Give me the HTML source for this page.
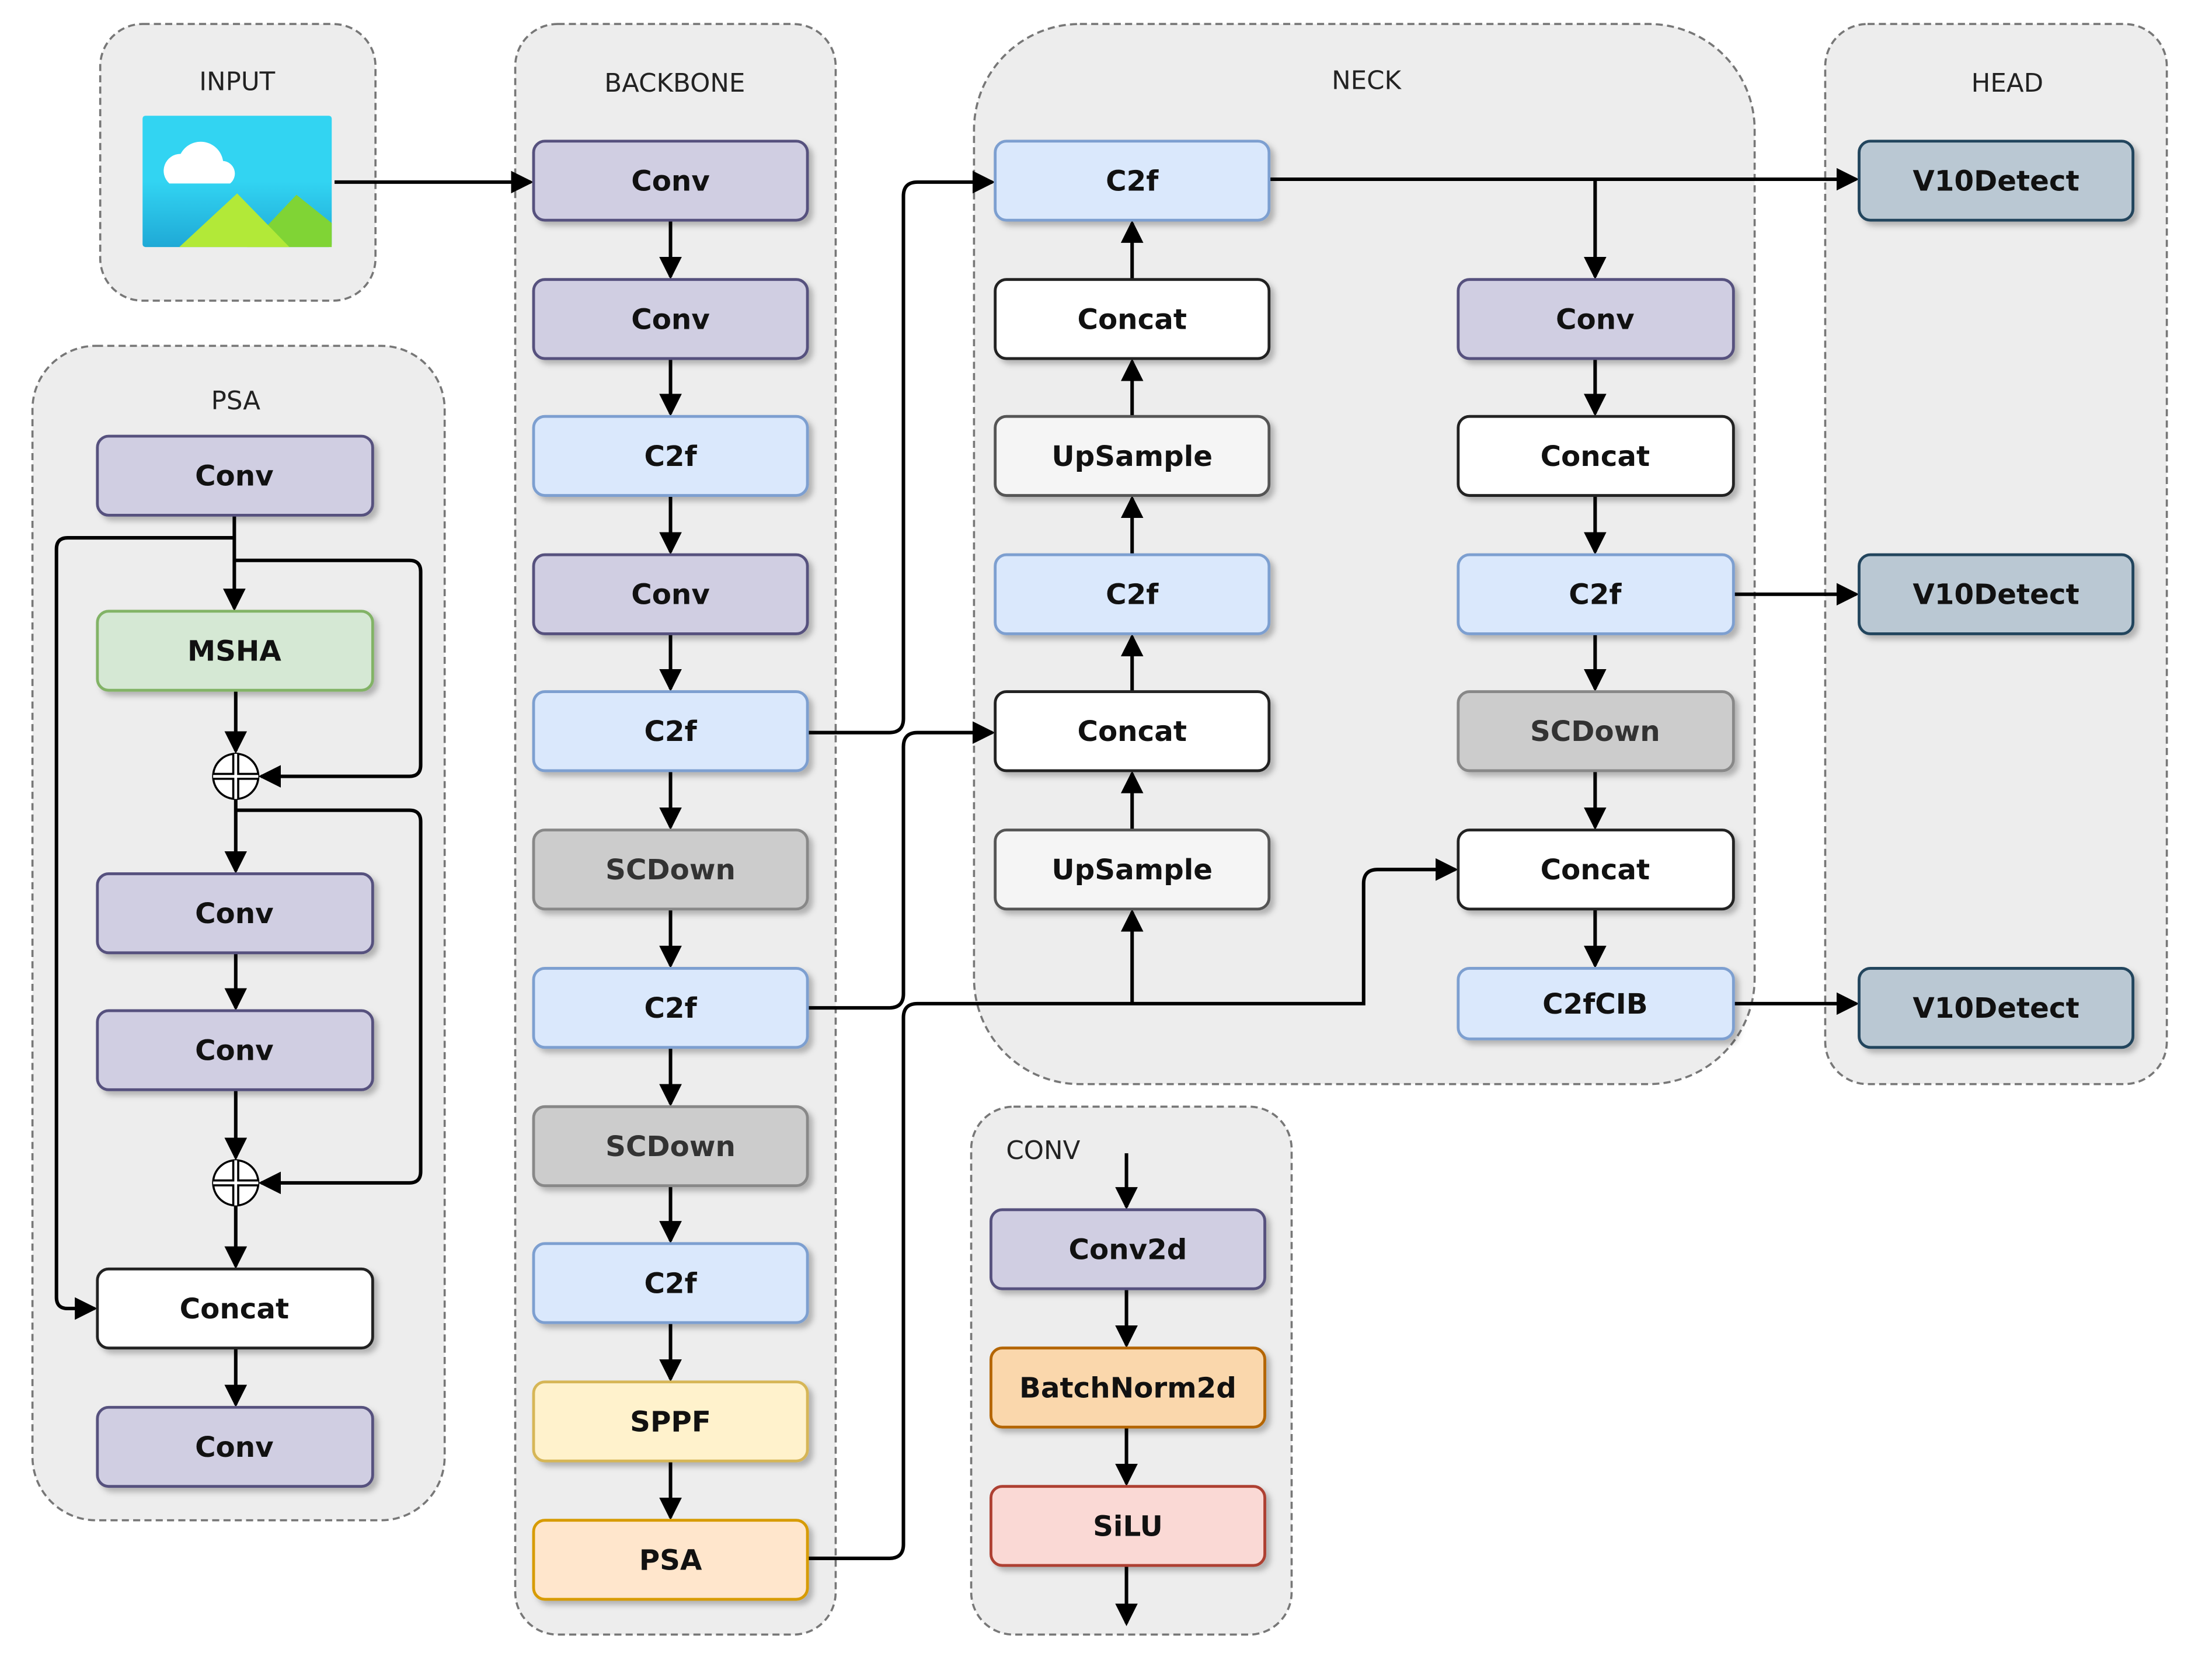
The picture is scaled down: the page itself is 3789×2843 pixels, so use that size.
<!DOCTYPE html>
<html><head><meta charset="utf-8"><style>html,body{margin:0;padding:0;background:#fff;}svg{display:block}</style></head>
<body>
<svg width="3789" height="2843" viewBox="0 0 1567 1176" preserveAspectRatio="none" xmlns="http://www.w3.org/2000/svg" font-family="'DejaVu Sans','Liberation Sans',sans-serif">
<defs>
<marker id="a" markerUnits="userSpaceOnUse" markerWidth="18" markerHeight="18" refX="14" refY="8" orient="auto"><path d="M0,0 L16,8 L0,16 Z" fill="#000"/></marker>
<filter id="sh" x="-10%" y="-20%" width="125%" height="160%"><feDropShadow dx="3" dy="3" stdDeviation="2" flood-color="#000" flood-opacity="0.25"/></filter>
<linearGradient id="sky" x1="0" y1="0" x2="0" y2="1"><stop offset="0.5" stop-color="#32d4f2"/><stop offset="1" stop-color="#1fa9d6"/></linearGradient>
</defs>
<g fill="#ededed" stroke="#777" stroke-width="1.5" stroke-dasharray="5,3">
<rect x="71" y="17" width="195" height="196" rx="30"/>
<rect x="365" y="17" width="227" height="1141" rx="30"/>
<rect x="690" y="17" width="553" height="751" rx="75"/>
<rect x="1293" y="17" width="242" height="751" rx="30"/>
<rect x="23" y="245" width="292" height="832" rx="45"/>
<rect x="688" y="784" width="227" height="374" rx="30"/>
</g>
<g font-size="18" fill="#222" text-anchor="middle">
<text x="168" y="64">INPUT</text><text x="478" y="65">BACKBONE</text><text x="968" y="63">NECK</text><text x="1422" y="65">HEAD</text><text x="167" y="290">PSA</text><text x="739" y="821">CONV</text>
</g>
<rect x="101" y="82" width="134" height="93" fill="url(#sky)" rx="2"/>
<path d="M175,175 L210,138 L235,158 L235,175 Z" fill="#80d435"/>
<path d="M127,175 L168,137 L205,175 Z" fill="#b2e938"/>
<path d="M120,130 a12,12 0 0 1 8,-21 a16,16 0 0 1 30,5 a9,9 0 0 1 5,16 Z" fill="#fff"/>
<g fill="none" stroke="#000" stroke-width="2.5" marker-end="url(#a)">
<path d="M237,129 H376"/>
<path d="M475,156 V196"/><path d="M475,254 V293"/><path d="M475,351 V391"/><path d="M475,449 V488"/><path d="M475,546 V586"/><path d="M475,644 V684"/><path d="M475,742 V782"/><path d="M475,840 V879"/><path d="M475,937 V977"/><path d="M475,1035 V1075"/>
<path d="M572,519 H630 Q640,519 640,509 V139 Q640,129 650,129 H703"/>
<path d="M572,714 H630 Q640,714 640,704 V529 Q640,519 650,519 H703"/>
<path d="M572,1104 H630 Q640,1104 640,1094 V721 Q640,711 650,711 H966 V626 Q966,616 976,616 H1031"/>
<path d="M802,711 V646"/>
<path d="M802,198 V158"/><path d="M802,295 V256"/><path d="M802,393 V353"/><path d="M802,490 V451"/><path d="M802,588 V548"/>
<path d="M899,127 H1315"/><path d="M1130,127 V196"/>
<path d="M1130,254 V293"/><path d="M1130,351 V391"/><path d="M1130,449 V488"/><path d="M1130,546 V586"/><path d="M1130,644 V684"/>
<path d="M1228,421 H1315"/><path d="M1228,711 H1315"/>
<path d="M166,365 V431"/>
<path d="M166,381 H48 Q40,381 40,389 V919 Q40,927 48,927 H67"/>
<path d="M166,397 H290 Q298,397 298,405 V542 Q298,550 290,550 H185"/>
<path d="M167,489 V532"/>
<path d="M167,566 V617"/>
<path d="M167,574 H290 Q298,574 298,582 V830 Q298,838 290,838 H185"/>
<path d="M167,675 V714"/><path d="M167,772 V820"/><path d="M167,854 V897"/><path d="M167,955 V995"/>
<path d="M798,817 V855"/><path d="M798,913 V953"/><path d="M798,1011 V1051"/><path d="M798,1109 V1150"/>
</g>
<g fill="#fff" stroke="#000" stroke-width="1.5">
<circle cx="167" cy="550" r="16"/><path d="M151,550 H183 M167,534 V566" stroke-width="5"/><path d="M151,550 H183 M167,534 V566" stroke="#fff" stroke-width="2"/>
<circle cx="167" cy="838" r="16" fill="#fff"/><path d="M151,838 H183 M167,822 V854" stroke-width="5"/><path d="M151,838 H183 M167,822 V854" stroke="#fff" stroke-width="2"/>
</g>
<g stroke-width="2" filter="url(#sh)">
<g fill="#d0cee2" stroke="#56517e">
<rect x="378" y="100" width="194" height="56" rx="8"/><rect x="378" y="198" width="194" height="56" rx="8"/><rect x="378" y="393" width="194" height="56" rx="8"/>
<rect x="1033" y="198" width="195" height="56" rx="8"/>
<rect x="69" y="309" width="195" height="56" rx="8"/><rect x="69" y="619" width="195" height="56" rx="8"/><rect x="69" y="716" width="195" height="56" rx="8"/><rect x="69" y="997" width="195" height="56" rx="8"/>
<rect x="702" y="857" width="194" height="56" rx="8"/>
</g>
<g fill="#dae8fc" stroke="#7d9fd0">
<rect x="378" y="295" width="194" height="56" rx="8"/><rect x="378" y="490" width="194" height="56" rx="8"/><rect x="378" y="686" width="194" height="56" rx="8"/><rect x="378" y="881" width="194" height="56" rx="8"/>
<rect x="705" y="100" width="194" height="56" rx="8"/><rect x="705" y="393" width="194" height="56" rx="8"/>
<rect x="1033" y="393" width="195" height="56" rx="8"/><rect x="1033" y="686" width="195" height="50" rx="8"/>
</g>
<g fill="#cccccc" stroke="#888"><rect x="378" y="588" width="194" height="56" rx="8"/><rect x="378" y="784" width="194" height="56" rx="8"/><rect x="1033" y="490" width="195" height="56" rx="8"/></g>
<rect x="378" y="979" width="194" height="56" rx="8" fill="#fff2cc" stroke="#d6b656"/>
<rect x="378" y="1077" width="194" height="56" rx="8" fill="#ffe6cc" stroke="#d79b00"/>
<g fill="#fff" stroke="#222"><rect x="705" y="198" width="194" height="56" rx="8"/><rect x="705" y="490" width="194" height="56" rx="8"/><rect x="1033" y="295" width="195" height="56" rx="8"/><rect x="1033" y="588" width="195" height="56" rx="8"/><rect x="69" y="899" width="195" height="56" rx="8"/></g>
<g fill="#f5f5f5" stroke="#555"><rect x="705" y="295" width="194" height="56" rx="8"/><rect x="705" y="588" width="194" height="56" rx="8"/></g>
<g fill="#bac8d3" stroke="#23445d"><rect x="1317" y="100" width="194" height="56" rx="8"/><rect x="1317" y="393" width="194" height="56" rx="8"/><rect x="1317" y="686" width="194" height="56" rx="8"/></g>
<rect x="69" y="433" width="195" height="56" rx="8" fill="#d5e8d4" stroke="#82b366"/>
<rect x="702" y="955" width="194" height="56" rx="8" fill="#fad7ac" stroke="#b46504"/>
<rect x="702" y="1053" width="194" height="56" rx="8" fill="#fad9d5" stroke="#ae4132"/>
</g>
<g font-size="20" font-weight="bold" fill="#111" text-anchor="middle">
<text x="475" y="135">Conv</text><text x="475" y="233">Conv</text><text x="475" y="330">C2f</text><text x="475" y="428">Conv</text><text x="475" y="525">C2f</text><text x="475" y="623" fill="#333">SCDown</text><text x="475" y="721">C2f</text><text x="475" y="819" fill="#333">SCDown</text><text x="475" y="916">C2f</text><text x="475" y="1014">SPPF</text><text x="475" y="1112">PSA</text>
<text x="802" y="135">C2f</text><text x="802" y="233">Concat</text><text x="802" y="330">UpSample</text><text x="802" y="428">C2f</text><text x="802" y="525">Concat</text><text x="802" y="623">UpSample</text>
<text x="1130" y="233">Conv</text><text x="1130" y="330">Concat</text><text x="1130" y="428">C2f</text><text x="1130" y="525" fill="#333">SCDown</text><text x="1130" y="623">Concat</text><text x="1130" y="718">C2fCIB</text>
<text x="1414" y="135">V10Detect</text><text x="1414" y="428">V10Detect</text><text x="1414" y="721">V10Detect</text>
<text x="166" y="344">Conv</text><text x="166" y="468">MSHA</text><text x="166" y="654">Conv</text><text x="166" y="751">Conv</text><text x="166" y="934">Concat</text><text x="166" y="1032">Conv</text>
<text x="799" y="892">Conv2d</text><text x="799" y="990">BatchNorm2d</text><text x="799" y="1088">SiLU</text>
</g>
</svg>
</body></html>
